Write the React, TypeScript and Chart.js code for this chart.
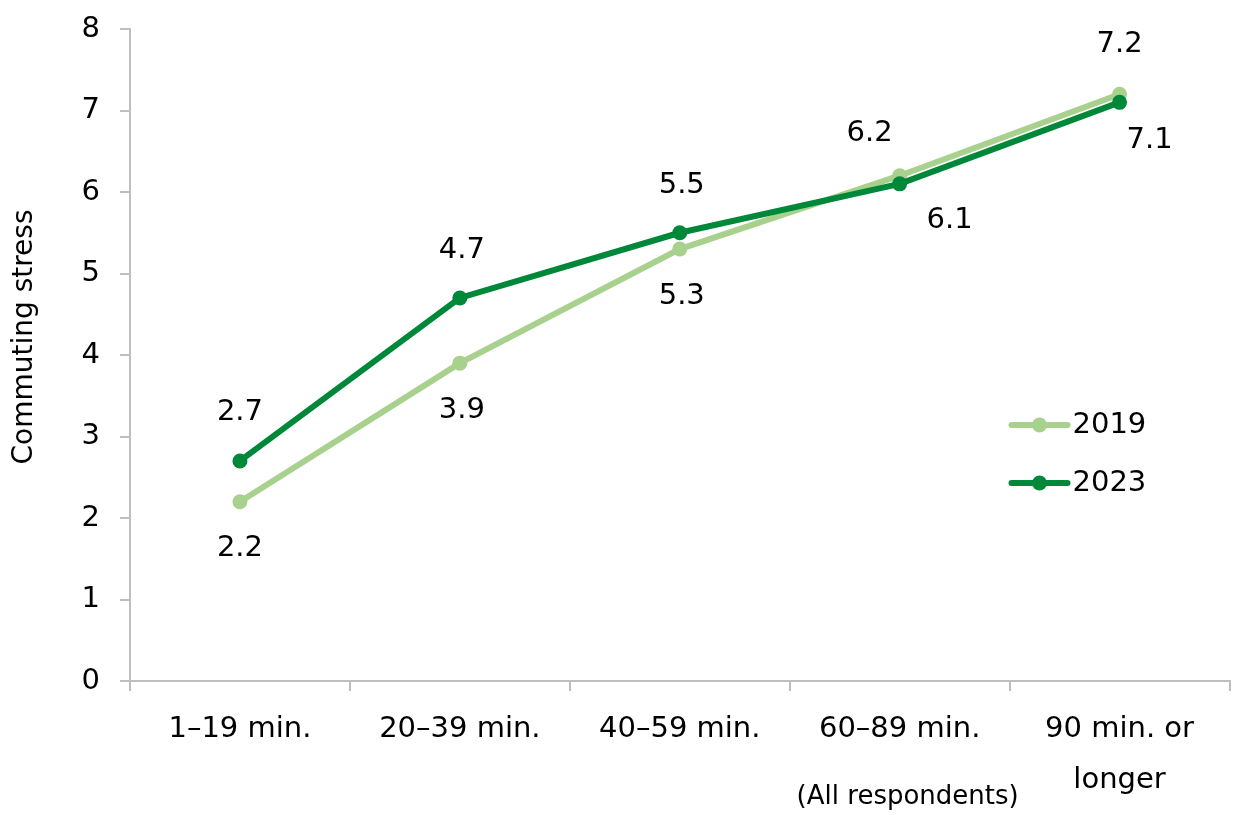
import React, { useEffect, useRef } from "react";
import { Chart, registerables } from "chart.js";

Chart.register(...registerables);

const categories: (string | string[])[] = [
  "1–19 min.",
  "20–39 min.",
  "40–59 min.",
  "60–89 min.",
  ["90 min. or", "longer"],
];
const series2019 = [2.2, 3.9, 5.3, 6.2, 7.2];
const series2023 = [2.7, 4.7, 5.5, 6.1, 7.1];
const yTicks = [0, 1, 2, 3, 4, 5, 6, 7, 8];
const yTitle = "Commuting stress";
const note = "(All respondents)";

const LIGHT = "#a9d18e";
const DARK = "#00883a";
const FONT = "'DejaVu Sans', Verdana, sans-serif";

// label offsets (dx, dy) relative to each point, style only
const labelOffsets: Record<string, [number, number][]> = {
  "2019": [[0, 47], [2, 47], [2, 47], [-30, -42], [0, -50]],
  "2023": [[0, -48], [2, -47], [2, -47], [50, 37], [30, 38]],
};

const customPlugin = {
  id: "custom",
  afterDatasetsDraw(chart: any) {
    const ctx = chart.ctx;
    const area = chart.chartArea;
    ctx.save();
    ctx.fillStyle = "#000";
    ctx.font = `29px ${FONT}`;
    ctx.textAlign = "center";
    ctx.textBaseline = "middle";
    chart.data.datasets.forEach((ds: any, di: number) => {
      const meta = chart.getDatasetMeta(di);
      const offs = labelOffsets[ds.label];
      meta.data.forEach((pt: any, i: number) => {
        const [dx, dy] = offs[i];
        ctx.fillText(ds.data[i].toFixed(1), pt.x + dx, pt.y + dy);
      });
    });
    // legend
    const items = [
      { label: "2019", color: LIGHT },
      { label: "2023", color: DARK },
    ];
    items.forEach((it, i) => {
      const y = 425 + i * 58;
      const x0 = area.right - 218;
      ctx.strokeStyle = it.color;
      ctx.lineWidth = 6;
      ctx.lineCap = "round";
      ctx.beginPath();
      ctx.moveTo(x0, y);
      ctx.lineTo(x0 + 56, y);
      ctx.stroke();
      ctx.fillStyle = it.color;
      ctx.beginPath();
      ctx.arc(x0 + 28, y, 7.5, 0, Math.PI * 2);
      ctx.fill();
      ctx.fillStyle = "#000";
      ctx.textAlign = "left";
      ctx.fillText(it.label, x0 + 61, y);
    });
    // note
    const xs = chart.scales.x;
    ctx.font = `26px ${FONT}`;
    ctx.textAlign = "center";
    ctx.fillText(note, xs.getPixelForValue(3) + 8, 797);
    // y title
    ctx.save();
    ctx.translate(25, 337);
    ctx.rotate(-Math.PI / 2);
    ctx.font = `28px ${FONT}`;
    ctx.fillText(yTitle, 0, 0);
    ctx.restore();
    ctx.restore();
  },
};

export default function App() {
  const ref = useRef<HTMLCanvasElement>(null);
  useEffect(() => {
    document.body.style.margin = "0";
    const chart = new Chart(ref.current as HTMLCanvasElement, {
      type: "line",
      data: {
        labels: categories,
        datasets: [
          {
            label: "2019",
            data: series2019,
            borderColor: LIGHT,
            backgroundColor: LIGHT,
            borderWidth: 6,
            pointRadius: 7.5,
            pointHoverRadius: 7.5,
            pointBorderWidth: 0,
            order: 1,
          },
          {
            label: "2023",
            data: series2023,
            borderColor: DARK,
            backgroundColor: DARK,
            borderWidth: 6,
            pointRadius: 7.5,
            pointHoverRadius: 7.5,
            pointBorderWidth: 0,
            order: 0,
          },
        ],
      },
      options: {
        animation: false,
        responsive: true,
        maintainAspectRatio: false,
        layout: { padding: { top: 29, right: 7, left: 0, bottom: 0 } },
        plugins: {
          legend: { display: false },
          tooltip: { enabled: false },
        },
        scales: {
          x: {
            offset: true,
            grid: {
              offset: true,
              drawOnChartArea: false,
              drawTicks: true,
              tickLength: 10,
              color: "#bfbfbf",
              lineWidth: 2,
            },
            border: { color: "#bfbfbf", width: 2 },
            ticks: {
              color: "#000",
              font: { family: FONT, size: 29, lineHeight: 1.75 },
              padding: 13,
              maxRotation: 0,
              autoSkip: false,
            },
            afterFit(scale: any) {
              scale.height = 134;
            },
          },
          y: {
            min: 0,
            max: 8,
            afterBuildTicks(scale: any) {
              scale.ticks = yTicks.map((v) => ({ value: v }));
            },
            grid: {
              drawOnChartArea: false,
              drawTicks: true,
              tickLength: 10,
              color: "#bfbfbf",
              lineWidth: 2,
            },
            border: { color: "#bfbfbf", width: 2 },
            ticks: {
              color: "#000",
              font: { family: FONT, size: 29 },
              padding: 20,
            },
            afterFit(scale: any) {
              scale.width = 130;
              scale.paddingTop = 0;
              scale.paddingBottom = 0;
            },
          },
        },
      },
      plugins: [customPlugin],
    });
    return () => chart.destroy();
  }, []);
  return (
    <div style={{ position: "absolute", left: 0, top: 0, width: 1237, height: 815 }}>
      <canvas ref={ref} />
    </div>
  );
}
